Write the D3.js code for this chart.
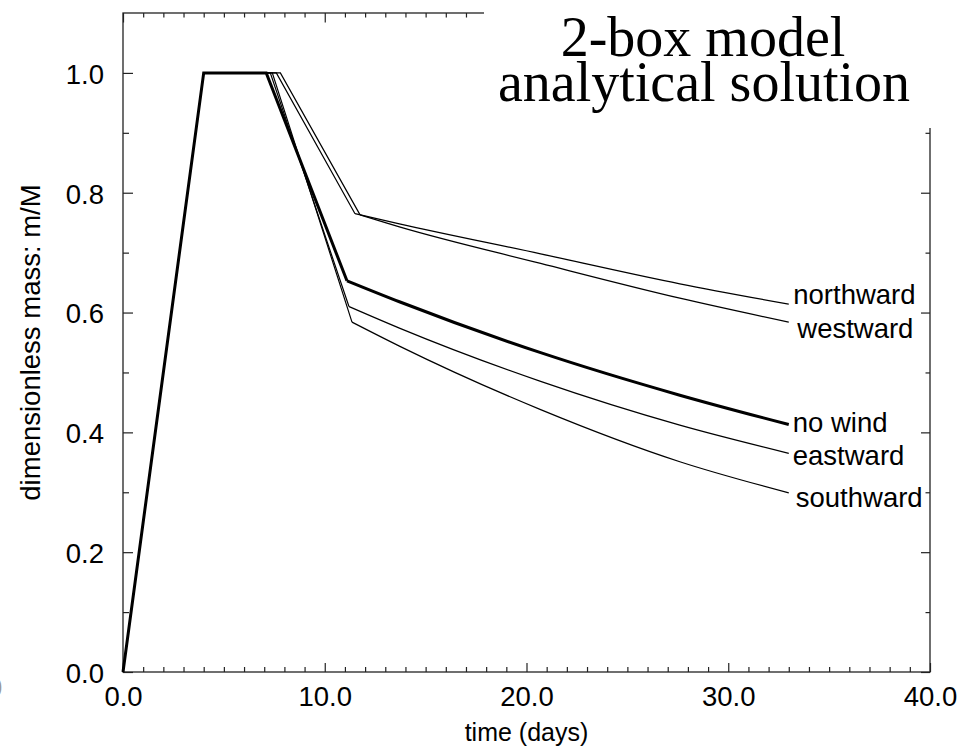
<!DOCTYPE html>
<html>
<head>
<meta charset="utf-8">
<script src="https://cdn.jsdelivr.net/npm/d3@7"></script>
<style>
  html, body { margin: 0; padding: 0; background: #fff; }
  svg { display: block; }
  text { font-family: "Liberation Sans", Arial, Helvetica, sans-serif; fill: #000; }
</style>
</head>
<body>
<svg id="chart" width="974" height="752"></svg>
<script>
// ---- data ----
const xMajorTicks = [0, 10, 20, 30, 40];
const xTickLabels = ["0.0", "10.0", "20.0", "30.0", "40.0"];
const yMajorTicks = [0, 0.2, 0.4, 0.6, 0.8, 1.0];
const yTickLabels = ["0.0", "0.2", "0.4", "0.6", "0.8", "1.0"];

const seriesNames = ["northward", "westward", "no wind", "eastward", "southward"];
// [time (days), m/M]
const northward = [[0,0],[4,1],[7.6,1],[11.5,0.765],[13.7,0.748],[20.7,0.698],[27.6,0.648],[33,0.614]];
const westward  = [[0,0],[4,1],[7.8,1],[11.75,0.763],[13.7,0.743],[20.7,0.682],[27.6,0.624],[33,0.584]];
const noWind    = [[0,0],[4,1],[7.1,1],[11.1,0.653],[13.7,0.618],[20.7,0.533],[27.6,0.462],[33,0.413]];
const eastward  = [[0,0],[4,1],[7.3,1],[11.2,0.610],[13.7,0.574],[20.7,0.485],[27.6,0.412],[33,0.365]];
const southward = [[0,0],[4,1],[7.4,1],[11.35,0.584],[13.7,0.544],[20.7,0.438],[27.6,0.351],[33,0.299]];
const seriesData = [northward, westward, noWind, eastward, southward];
const kinkIndex = 3; // last point of the straight (piecewise-linear) part

const titleLines = ["2-box model", "analytical solution"];
const xTitle = "time (days)";
const yTitle = "dimensionless mass: m/M";

// ---- layout / style ----
const L = 123, R = 930, T = 13, B = 672;
const strokeW = [1.2, 1.2, 3, 1.2, 1.2];
const labelDx = [4.5, 8.5, 4, 4, 7];
const labelDy = [0, 16, 7.5, 12, 14];
const FS = 27.5;

const svg = d3.select("#chart");
const x = d3.scaleLinear().domain([0, 40]).range([L, R]);
const y = d3.scaleLinear().domain([0, 1.1]).range([B, T]);

const xMinor = d3.range(0, 41, 1).filter(v => v % 10 !== 0);
const yMinor = d3.range(1, 11, 2).map(v => v / 10);

function styleAxis(g) {
  g.select(".domain").remove();
  g.selectAll(".tick line").attr("stroke", "#222").attr("stroke-width", 1.2);
  g.selectAll("text").attr("font-size", FS).attr("font-family", '"Liberation Sans", Arial, sans-serif').attr("fill", "#000");
}

// bottom axis
svg.append("g").attr("transform", `translate(0,${B})`)
  .call(d3.axisBottom(x).tickValues(xMajorTicks).tickFormat((d, i) => xTickLabels[i])
    .tickSizeInner(-9).tickSizeOuter(0).tickPadding(14.5))
  .call(styleAxis);
svg.append("g").attr("transform", `translate(0,${B})`)
  .call(d3.axisBottom(x).tickValues(xMinor).tickFormat("").tickSizeInner(-5).tickSizeOuter(0))
  .call(styleAxis);
// top axis
svg.append("g").attr("transform", `translate(0,${T})`)
  .call(d3.axisTop(x).tickValues(xMajorTicks).tickFormat("").tickSizeInner(-9.5).tickSizeOuter(0))
  .call(styleAxis);
svg.append("g").attr("transform", `translate(0,${T})`)
  .call(d3.axisTop(x).tickValues(xMinor).tickFormat("").tickSizeInner(-4.5).tickSizeOuter(0))
  .call(styleAxis);
// left axis
svg.append("g").attr("transform", `translate(${L},0)`)
  .call(d3.axisLeft(y).tickValues(yMajorTicks).tickFormat((d, i) => yTickLabels[i])
    .tickSizeInner(-10).tickSizeOuter(0).tickPadding(19))
  .call(styleAxis)
  .call(g => g.selectAll("text").attr("dy", "0.38em"));
svg.append("g").attr("transform", `translate(${L},0)`)
  .call(d3.axisLeft(y).tickValues(yMinor).tickFormat("").tickSizeInner(-6).tickSizeOuter(0))
  .call(styleAxis);
// right axis
svg.append("g").attr("transform", `translate(${R},0)`)
  .call(d3.axisRight(y).tickValues(yMajorTicks).tickFormat("").tickSizeInner(-9).tickSizeOuter(0))
  .call(styleAxis);
svg.append("g").attr("transform", `translate(${R},0)`)
  .call(d3.axisRight(y).tickValues(yMinor).tickFormat("").tickSizeInner(-4.5).tickSizeOuter(0))
  .call(styleAxis);

// frame
svg.append("rect").attr("x", L).attr("y", T).attr("width", R - L).attr("height", B - T)
  .attr("fill", "none").attr("stroke", "#222").attr("stroke-width", 1.3);

// lines
const lineLin = d3.line().x(d => x(d[0])).y(d => y(d[1]));
const lineSmooth = d3.line().x(d => x(d[0])).y(d => y(d[1])).curve(d3.curveMonotoneX);
seriesData.forEach((pts, i) => {
  const g = svg.append("g").attr("fill", "none").attr("stroke", "#000")
    .attr("stroke-width", strokeW[i]).attr("stroke-linejoin", "miter").attr("stroke-linecap", "butt");
  g.append("path").attr("d", lineLin(pts.slice(0, kinkIndex + 1)));
  g.append("path").attr("d", lineSmooth(pts.slice(kinkIndex)));
  const last = pts[pts.length - 1];
  svg.append("text").attr("x", x(last[0]) + labelDx[i]).attr("y", y(last[1]) + labelDy[i])
    .attr("font-size", FS).text(seriesNames[i]);
});

// white box behind title
svg.append("rect").attr("x", 484).attr("y", 0).attr("width", 974 - 484).attr("height", 128).attr("fill", "#fff");

// title
const serif = '"Liberation Serif", "Times New Roman", serif';
svg.append("text").attr("x", 703).attr("y", 56).attr("text-anchor", "middle")
  .attr("font-size", 56).style("font-family", serif).text(titleLines[0]);
svg.append("text").attr("x", 704).attr("y", 101).attr("text-anchor", "middle")
  .attr("font-size", 56).style("font-family", serif).text(titleLines[1]);

// axis titles
svg.append("text").attr("x", (L + R) / 2).attr("y", 741).attr("text-anchor", "middle")
  .attr("font-size", 25).text(xTitle);
svg.append("text").attr("transform", `translate(40,${y(0.55)}) rotate(-90)`).attr("text-anchor", "middle")
  .attr("font-size", FS).text(yTitle);

// clipped stray glyph at the bottom-left edge
svg.append("text").attr("x", -13).attr("y", 697).attr("font-size", FS).attr("fill", "#999").style("fill", "#999").text("0");
</script>
</body>
</html>
